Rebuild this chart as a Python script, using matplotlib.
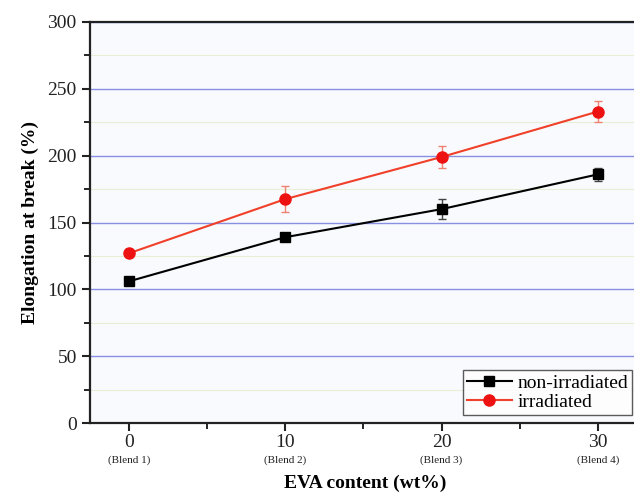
import matplotlib
matplotlib.use("Agg")
import matplotlib.pyplot as plt
from matplotlib.lines import Line2D
from matplotlib.ticker import MultipleLocator

# EVA content (wt%) and blend names
eva_content = [0, 10, 20, 30]
blend_names = ["(Blend 1)", "(Blend 2)", "(Blend 3)", "(Blend 4)"]

# Elongation at break (%) with standard deviations
non_irradiated = [106, 139, 160, 186]
non_irradiated_err = [2, 3, 7.5, 5]
irradiated = [127, 167.5, 199, 233]
irradiated_err = [3, 9.7, 8.6, 8]

plt.rcParams["font.family"] = ["Liberation Serif", "DejaVu Serif"]

fig = plt.figure(figsize=(6.34, 4.92), dpi=100)
ax = fig.add_axes([90 / 634, 1 - 423 / 492, (640 - 90) / 634, (423 - 22) / 492])
ax.set_facecolor("#f9fafd")

non_style = dict(color="black", marker="s", markersize=7, linewidth=1.5)
irr_style = dict(color="#f0402a", marker="o", markersize=8,
                 markerfacecolor="#ee1111", markeredgecolor="#ee1111", linewidth=1.5)

ax.errorbar(eva_content, non_irradiated, yerr=non_irradiated_err,
            ecolor="#444444", elinewidth=1.0, capsize=3, zorder=4, **non_style)
ax.errorbar(eva_content, irradiated, yerr=irradiated_err,
            ecolor="#f08070", elinewidth=1.0, capsize=3, zorder=4, **irr_style)

ax.set_xlim(-2.5, 32.7)
ax.set_ylim(0, 300)
ax.yaxis.set_major_locator(MultipleLocator(50))
ax.yaxis.set_minor_locator(MultipleLocator(25))
ax.xaxis.set_major_locator(MultipleLocator(10))
ax.xaxis.set_minor_locator(MultipleLocator(5))

ax.grid(True, which="major", axis="y", color="#8890e4", linewidth=1.0, zorder=0)
ax.grid(True, which="minor", axis="y", color="#e6eed6", linewidth=0.8, zorder=0)
ax.set_axisbelow(True)

for side in ("left", "bottom", "top"):
    ax.spines[side].set_linewidth(1.6)
    ax.spines[side].set_color("#222222")
ax.spines["right"].set_visible(False)

ax.tick_params(axis="both", which="major", direction="out", length=6, width=1.5,
               labelsize=14, colors="#222222")
ax.tick_params(axis="both", which="minor", direction="out", length=4, width=1.2)
ax.tick_params(axis="x", which="both", top=False)
ax.tick_params(axis="x", which="major", pad=2)

ax.set_xticks(eva_content)
ax.set_xticklabels([str(v) for v in eva_content])
for x, name in zip(eva_content, blend_names):
    ax.annotate(name, xy=(x, 0), xycoords=("data", "axes fraction"),
                xytext=(0, -27), textcoords="offset points",
                ha="center", va="center", fontsize=8, color="#222222")

ax.set_ylabel("Elongation at break (%)", fontsize=14, fontweight="bold", labelpad=6)
ax.set_xlabel("EVA content (wt%)", fontsize=14, fontweight="bold", labelpad=17)

handles = [Line2D([], [], **non_style), Line2D([], [], **irr_style)]
leg = ax.legend(handles, ["non-irradiated", "irradiated"],
                loc="lower right", bbox_to_anchor=(632 / 634, (492 - 415) / 492),
                bbox_transform=fig.transFigure, fontsize=14,
                frameon=True, fancybox=False, borderaxespad=0,
                handlelength=2.3, handletextpad=0.3, borderpad=0.2,
                labelspacing=0.1)
leg.get_frame().set_edgecolor("#333333")
leg.get_frame().set_linewidth(1.0)
leg.get_frame().set_facecolor("white")

fig.savefig("out.png", dpi=100, facecolor="white")
